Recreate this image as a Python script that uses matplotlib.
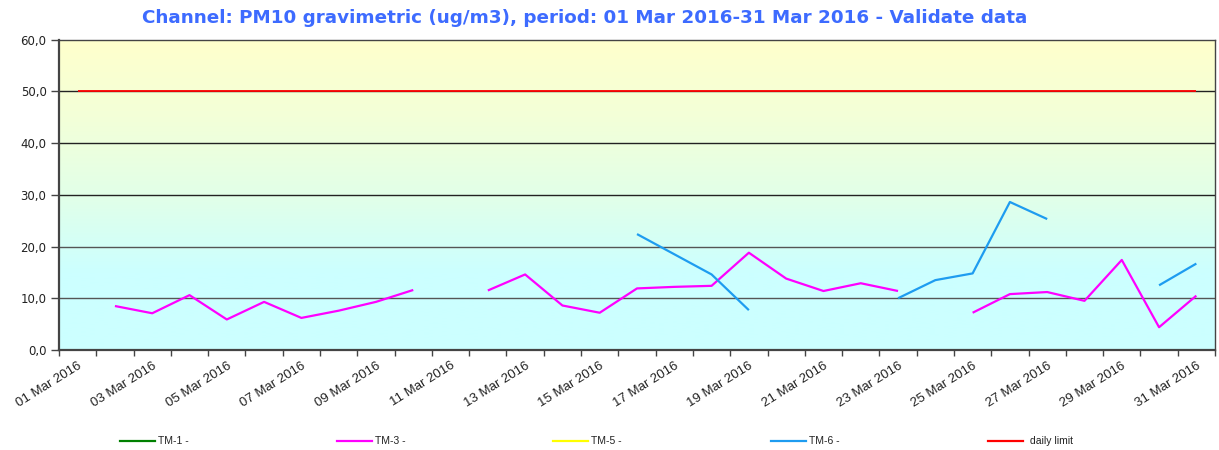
import numpy as np
import matplotlib
matplotlib.use("Agg")
import matplotlib.pyplot as plt
from matplotlib.colors import LinearSegmentedColormap
from matplotlib.lines import Line2D
from matplotlib.ticker import FuncFormatter

# ---------------- data ----------------
days = [f"{d:02d} Mar 2016" for d in range(1, 32)]
nan = np.nan
tm1 = [nan] * 31
tm3 = [nan, 8.5, 7.1, 10.6, 5.9, 9.3, 6.2, 7.6, 9.3, 11.6, nan, 11.5, 14.6, 8.6, 7.2,
       11.9, 12.2, 12.4, 18.8, 13.8, 11.4, 12.9, 11.4, nan, 7.2, 10.8, 11.2, 9.5, 17.4,
       4.4, 10.5]
tm5 = [nan] * 31
tm6 = [nan] * 15 + [22.4, 18.5, 14.6, 7.7, nan, nan, nan, 10.0, 13.5, 14.8, 28.6, 25.3,
                    nan, nan, 12.5, 16.7]
daily_limit = [50.0] * 31

series_names = ["TM-1 -", "TM-3 -", "TM-5 -", "TM-6 -", "daily limit"]
series_colors = ["#008000", "#FF00FF", "#FFFF00", "#1E9CF0", "#FF0000"]
title = "Channel: PM10 gravimetric (ug/m3), period: 01 Mar 2016-31 Mar 2016 - Validate data"

# ---------------- figure ----------------
W, H = 1219, 450
fig = plt.figure(figsize=(W / 100, H / 100), dpi=100)
ax = fig.add_axes([59 / W, 1 - 350 / H, (1215 - 59) / W, (350 - 39.5) / H])

x = np.arange(len(days))
ax.set_xlim(-0.5, len(days) - 0.5)
ax.set_ylim(0, 60)

# gradient background (yellow at top -> cyan towards the bottom)
cmap = LinearSegmentedColormap.from_list(
    "bg", [(0.0, "#CCFFFF"), (0.25, "#CCFFFF"), (0.5, "#E2FFE8"),
           (0.75, "#F3FFD8"), (1.0, "#FFFFCC")])
grad = np.linspace(0, 1, 256).reshape(-1, 1)
ax.imshow(grad, cmap=cmap, origin="lower", aspect="auto",
          extent=(-0.5, len(days) - 0.5, 0, 60), zorder=0, interpolation="bilinear")

# grid
for yv in [10, 20, 30, 40, 50]:
    ax.axhline(yv, color="#222222" if yv >= 30 else "#555555", lw=1.0, zorder=1)

# series
all_series = [tm1, tm3, tm5, tm6, daily_limit]
for vals, col, name in zip(all_series, series_colors, series_names):
    lw = 1.3 if name == "daily limit" else 1.6
    ax.plot(x, vals, color=col, lw=lw, zorder=3, solid_capstyle="butt")

# spines
for s in ax.spines.values():
    s.set_color("#444444")
    s.set_linewidth(1.0)
ax.spines["left"].set_linewidth(1.6)
ax.spines["bottom"].set_linewidth(1.6)

# y ticks
ax.set_yticks(np.arange(0, 61, 10))
ax.yaxis.set_major_formatter(FuncFormatter(lambda v, p: f"{v:.1f}".replace(".", ",")))
ax.tick_params(axis="y", direction="out", length=6, width=1, color="#444444",
               labelsize=8.5, pad=3, labelcolor="#222222")

# x ticks: marks at category boundaries, labels at every other category centre
ax.set_xticks(np.arange(-0.5, len(days)), minor=True)
ax.set_xticks(x[::2])
ax.set_xticklabels(days[::2], rotation=32, ha="right", rotation_mode="anchor",
                   fontsize=9.5, family="Liberation Sans", color="#222222")
ax.tick_params(axis="x", which="major", length=0, pad=7)
ax.tick_params(axis="x", which="minor", direction="out", length=4, width=1, color="#444444")

# title
fig.text(585 / W, 1 - 18 / H, title, ha="center", va="center", fontsize=13.2,
         fontweight="bold", color="#3D6BFF", family="DejaVu Sans")

# legend (manual, evenly spread)
leg_y = 1 - 441 / H
leg_x = [120, 337, 553, 771, 988]
for lx, name, col in zip(leg_x, series_names, series_colors):
    fig.add_artist(Line2D([lx / W, (lx + 35) / W], [leg_y, leg_y], color=col, lw=1.6,
                          transform=fig.transFigure))
    fig.text((lx + 38 + (4 if name == "daily limit" else 0)) / W, leg_y, name, ha="left",
             va="center", fontsize=7.5, family="Liberation Sans", color="#222222")

fig.savefig("out.png", dpi=100)
